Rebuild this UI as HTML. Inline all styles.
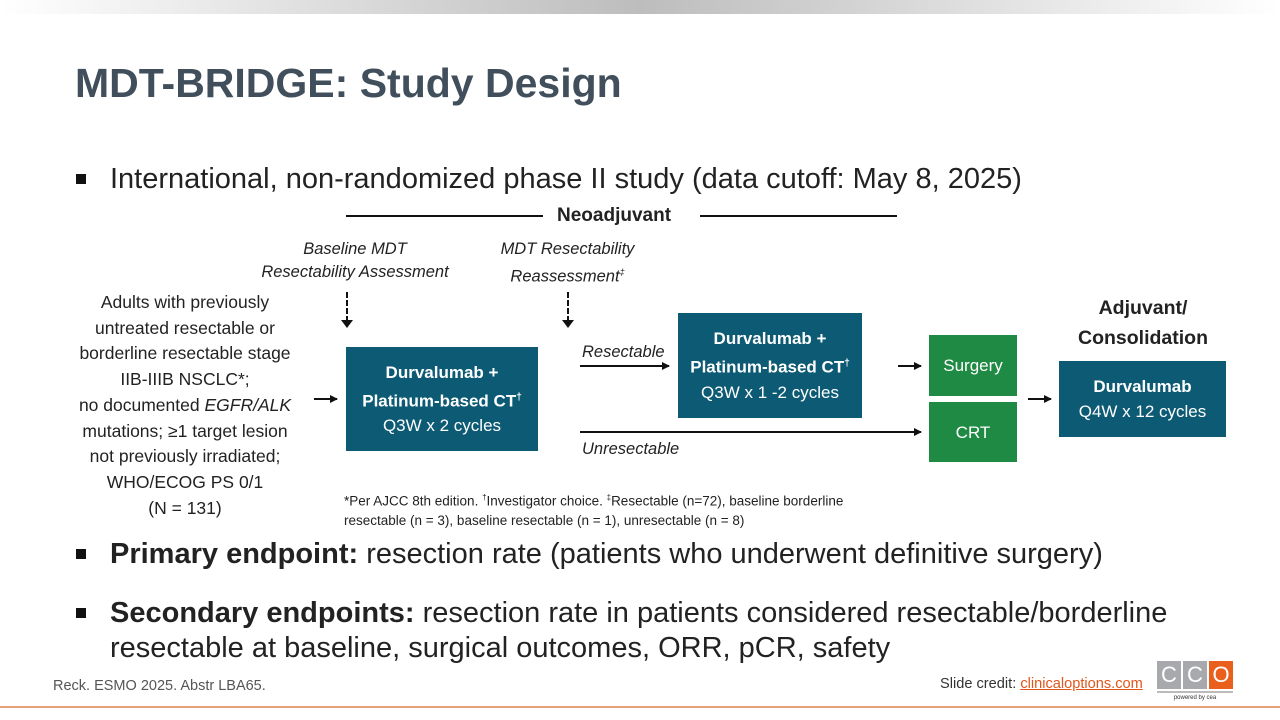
<!DOCTYPE html>
<html><head><style>
body{margin:0;width:1280px;height:720px;position:relative;background:#fff;font-family:"Liberation Sans",sans-serif;overflow:hidden}
.a{position:absolute}
.box{position:absolute;background:#0d5a74;color:#fff;text-align:center;display:flex;flex-direction:column;justify-content:center;font-size:17px;line-height:25px}
.g{background:#1f8a43}
.t{color:#222;font-size:29px;white-space:nowrap}
.it{font-style:italic;font-size:16.5px;color:#222;text-align:center;line-height:23px;white-space:nowrap}
.bul{position:absolute;width:10px;height:10px;background:#111}
</style></head><body>
<div class="a" style="left:0;top:0;width:1280px;height:14px;background:linear-gradient(90deg,#fff,#bdbdbd 50%,#fff)"></div>
<div class="a" style="left:75px;top:60px;font-size:41px;font-weight:bold;color:#404f5b">MDT-BRIDGE: Study Design</div>
<div class="bul" style="left:76px;top:174px"></div>
<div class="a t" style="left:110px;top:163px">International, non-randomized phase II study (data cutoff: May 8, 2025)</div>
<div class="a" style="left:346px;top:215px;width:197px;height:2px;background:#111"></div>
<div class="a" style="left:700px;top:215px;width:197px;height:2px;background:#111"></div>
<div class="a" style="left:557px;top:205px;font-size:19px;font-weight:bold;color:#222">Neoadjuvant</div>
<div class="a it" style="left:250px;top:238px;width:210px">Baseline MDT<br>Resectability Assessment</div>
<div class="a it" style="left:470px;top:238px;width:195px">MDT Resectability<br>Reassessment<sup style="font-size:9px">‡</sup></div>
<div class="a" style="left:346px;top:292px;height:30px;border-left:2px dashed #111"></div>
<div class="a" style="left:341px;top:320px;border-left:6px solid transparent;border-right:6px solid transparent;border-top:8px solid #111"></div>
<div class="a" style="left:567px;top:292px;height:30px;border-left:2px dashed #111"></div>
<div class="a" style="left:562px;top:320px;border-left:6px solid transparent;border-right:6px solid transparent;border-top:8px solid #111"></div>
<div class="a" style="left:55px;top:290px;width:260px;text-align:center;font-size:17.5px;line-height:25.7px;color:#222">Adults with previously<br>untreated resectable or<br>borderline resectable stage<br>IIB-IIIB NSCLC*;<br>no documented <i>EGFR/ALK</i><br>mutations; ≥1 target lesion<br>not previously irradiated;<br>WHO/ECOG PS 0/1<br>(N = 131)</div>
<div class="box" style="left:346px;top:347px;width:192px;height:104px"><b>Durvalumab +</b><b>Platinum-based CT<sup style="font-size:10px">†</sup></b><span>Q3W x 2 cycles</span></div>
<div class="box" style="left:678px;top:313px;width:184px;height:105px"><b>Durvalumab +</b><b>Platinum-based CT<sup style="font-size:10px">†</sup></b><span>Q3W x 1 -2 cycles</span></div>
<div class="box g" style="left:929px;top:335px;width:88px;height:61px">Surgery</div>
<div class="box g" style="left:929px;top:402px;width:88px;height:60px">CRT</div>
<div class="box" style="left:1059px;top:361px;width:167px;height:76px"><b>Durvalumab</b><span>Q4W x 12 cycles</span></div>
<div class="a" style="left:1060px;top:293px;width:166px;text-align:center;font-weight:bold;font-size:19.5px;line-height:30px;color:#222">Adjuvant/<br>Consolidation</div>
<svg class="a" style="left:0;top:0" width="1280" height="720">
<defs><marker id="m" markerWidth="8" markerHeight="8" refX="7" refY="4" orient="auto" markerUnits="userSpaceOnUse"><path d="M0,0L8,4L0,8z" fill="#111"/></marker></defs>
<g stroke="#111" stroke-width="2" marker-end="url(#m)">
<line x1="314" y1="399" x2="337" y2="399"/>
<line x1="580" y1="366" x2="669" y2="366"/>
<line x1="580" y1="432" x2="921" y2="432"/>
<line x1="898" y1="366" x2="921" y2="366"/>
<line x1="1028" y1="399" x2="1051" y2="399"/>
</g></svg>
<div class="a it" style="left:582px;top:341px;text-align:left">Resectable</div>
<div class="a it" style="left:582px;top:438px;text-align:left">Unresectable</div>
<div class="a" style="left:344px;top:488px;font-size:13.5px;line-height:19px;color:#222;white-space:nowrap">*Per AJCC 8th edition. <sup style="font-size:8px">†</sup>Investigator choice. <sup style="font-size:8px">‡</sup>Resectable (n=72), baseline borderline<br>resectable (n = 3), baseline resectable (n = 1), unresectable (n = 8)</div>
<div class="bul" style="left:76px;top:549px"></div>
<div class="a t" style="left:110px;top:538px"><b>Primary endpoint:</b> resection rate (patients who underwent definitive surgery)</div>
<div class="bul" style="left:76px;top:608px"></div>
<div class="a t" style="left:110px;top:596px;line-height:35px;font-size:29px"><b>Secondary endpoints:</b> resection rate in patients considered resectable/borderline<br>resectable at baseline, surgical outcomes, ORR, pCR, safety</div>
<div class="a" style="left:53px;top:678px;font-size:14.5px;color:#555">Reck. ESMO 2025. Abstr LBA65.</div>
<div class="a" style="left:940px;top:676px;font-size:14.6px;color:#333">Slide credit: <span style="color:#e0561b;text-decoration:underline">clinicaloptions.com</span></div>
<div class="a" style="left:1157px;top:661px;width:24px;height:28px;background:#a7a9ac;color:#fff;font-size:22px;text-align:center;line-height:28px">C</div>
<div class="a" style="left:1183px;top:661px;width:24px;height:28px;background:#a7a9ac;color:#fff;font-size:22px;text-align:center;line-height:28px">C</div>
<div class="a" style="left:1209px;top:661px;width:24px;height:28px;background:#e8601c;color:#fff;font-size:22px;text-align:center;line-height:28px">O</div>
<div class="a" style="left:1157px;top:691px;width:76px;height:2px;background:#bbb"></div>
<div class="a" style="left:1157px;top:695px;width:76px;text-align:center;font-size:6px;color:#333">powered by cea</div>
<div class="a" style="left:0;top:706px;width:1280px;height:2px;background:#e8a07a"></div>
</body></html>
